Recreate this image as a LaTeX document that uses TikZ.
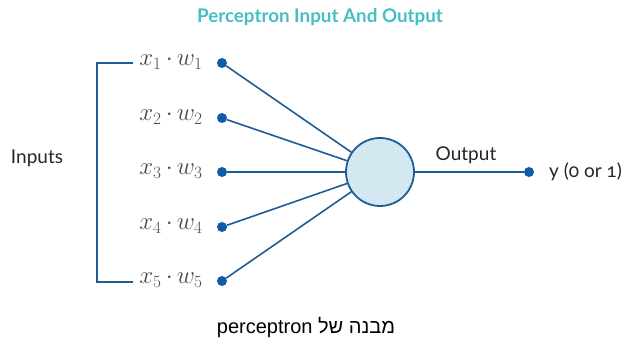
\documentclass[tikz,border=0pt]{standalone}
\usepackage{fontspec}
\setmainfont{Lato}[Numbers=OldStyle]
\newfontfamily\hebfont[Script=Hebrew]{Liberation Sans}
\TeXXeTstate=1
\definecolor{titlecol}{HTML}{45BFC2}
\definecolor{lineblue}{HTML}{1F5C96}
\definecolor{dotblue}{HTML}{0F5BA8}
\definecolor{cellfill}{HTML}{D4E8F2}
\definecolor{labgray}{HTML}{4A4A4A}
\begin{document}
\begin{tikzpicture}[x=1pt,y=-1pt,
  dot/.style={circle,fill=dotblue,inner sep=0pt,minimum size=10pt},
  conn/.style={draw=lineblue,line width=1.6pt},
  bracket/.style={draw=lineblue,line width=2.6pt},
  mlabel/.style={text=labgray,font=\fontsize{23}{23}\selectfont,inner sep=0pt},
  txt/.style={font=\fontsize{19}{21}\selectfont,text=black!85,inner sep=0pt}]
\useasboundingbox (0,0) rectangle (625,347);
\node[font=\bfseries\fontsize{18.8}{21}\selectfont,text=titlecol] (title) at (320,17) {Perceptron Input And Output};
% bracket
\coordinate (bt) at (133,63);
\coordinate (bb) at (133,282);
\draw[bracket] (bt) -- (97,63) -- (97,282) -- (bb);
\node[txt] (inputs) at (37,158) {Inputs};
% labels and dots
\foreach \i/\y in {1/62,2/117,3/171,4/226,5/280}{
  \node[mlabel] (l\i) at (171,\y) {$x_{\i}\mkern-1mu\cdot\mkern-1mu w_{\i}$};
  \node[dot] (d\i) at (222,\y+1) {};
}
\node[circle,draw=lineblue,line width=1.8pt,fill=cellfill,minimum size=68pt,inner sep=0pt] (n) at (380,172) {};
\foreach \i in {1,...,5}{
  \draw[conn] (d\i) -- (n);
}
\node[dot] (out) at (529,172) {};
\draw[conn] (n) -- (out);
\node[txt] (outlbl) at (466,155) {Output};
\node[txt,anchor=west] (y) at (549,172) {y (0 or 1)};
\node[font=\hebfont\fontsize{20}{22}\selectfont,text=black] (cap) at (306,327) {\beginR מבנה של \beginL perceptron\endL\endR};
\end{tikzpicture}
\end{document}
